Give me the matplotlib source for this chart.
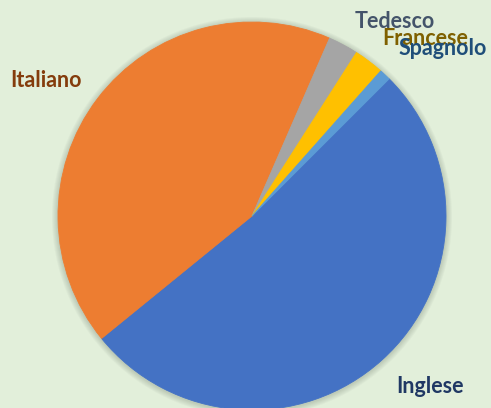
import matplotlib
matplotlib.use("Agg")
import matplotlib.pyplot as plt
from matplotlib.patches import Circle

languages = ["Inglese", "Italiano", "Tedesco", "Francese", "Spagnolo"]
shares = [51.6, 42.4, 2.5, 2.5, 0.95]
colors = ["#4472C4", "#ED7D31", "#A5A5A5", "#FFC000", "#5B9BD5"]
label_colors = ["#203864", "#843C0C", "#44546A", "#7F6000", "#1F4E79"]

W, H = 491, 408
fig = plt.figure(figsize=(W / 100, H / 100), dpi=100)
fig.patch.set_facecolor("#E2EFDA")
ax = fig.add_axes([0, 0, 1, 1])
ax.set_facecolor("#E2EFDA")

cx, cy, r = 252, H - 216, 194

# soft shadow
for k in range(6, 0, -1):
    ax.add_patch(Circle((cx, cy - 1), r + k, color="#55604f", alpha=0.045, lw=0, zorder=0))

wedges, _ = ax.pie(shares, colors=colors, startangle=45, counterclock=False,
                   center=(cx, cy), radius=r,
                   wedgeprops=dict(linewidth=0.6, antialiased=True))
for w, c in zip(wedges, colors):
    w.set_edgecolor(c)
    w.set_zorder(2)

ax.set_xlim(0, W)
ax.set_ylim(0, H)
ax.set_aspect("auto")
ax.axis("off")

# (center x, baseline y from top)
label_pos = {
    "Inglese": (430, 393),
    "Italiano": (46, 87),
    "Tedesco": (395, 28),
    "Francese": (425, 45),
    "Spagnolo": (443, 55),
}
for lang, lc in zip(languages, label_colors):
    x, y = label_pos[lang]
    ax.text(x, H - y, lang, color=lc, fontsize=15.5, fontweight="bold",
            family=["Lato", "DejaVu Sans"], ha="center", va="baseline", zorder=5)

fig.savefig("out.png", dpi=100, facecolor=fig.get_facecolor())
